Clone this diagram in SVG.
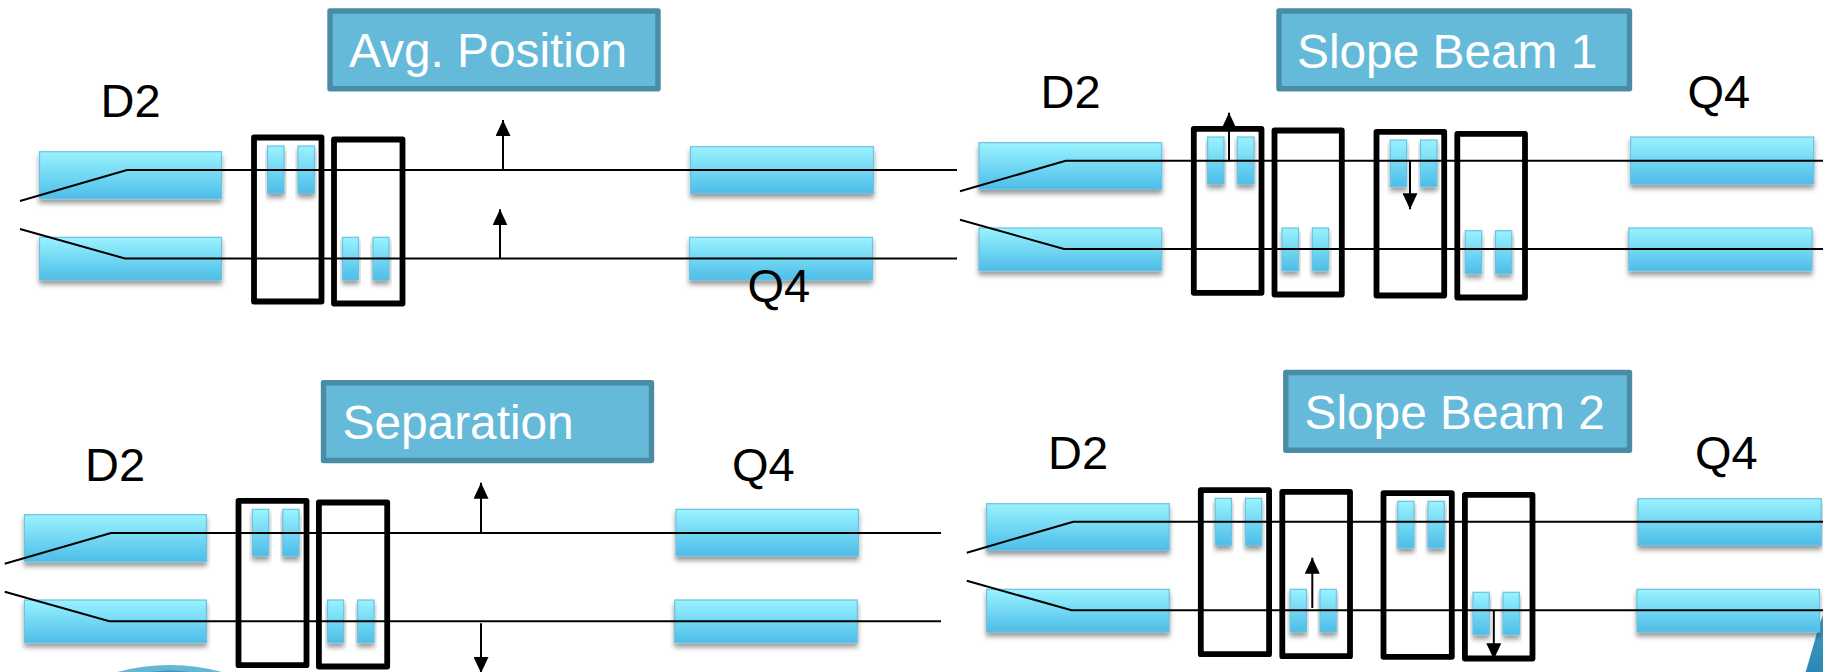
<svg xmlns="http://www.w3.org/2000/svg" width="1823" height="672" viewBox="0 0 1823 672">
<defs>
<linearGradient id="mag" x1="0" y1="0" x2="0" y2="1"><stop offset="0" stop-color="#9AF3FF"/><stop offset="1" stop-color="#4DBDE8"/></linearGradient>
<linearGradient id="wedge" x1="0" y1="0" x2="0" y2="1"><stop offset="0" stop-color="#3F9DC6"/><stop offset="1" stop-color="#2C88B2"/></linearGradient>
<filter id="sh" x="-15%" y="-15%" width="130%" height="150%"><feDropShadow dx="0" dy="4" stdDeviation="2.5" flood-color="#000" flood-opacity="0.4"/></filter>
<marker id="ah" viewBox="0 0 16 15" refX="16" refY="7.5" markerWidth="16" markerHeight="15" markerUnits="userSpaceOnUse" orient="auto"><path d="M0 0L16 7.5L0 15Z" fill="#000"/></marker>
</defs>
<style>
text{font-family:"Liberation Sans",Arial,sans-serif}
.mag{fill:url(#mag);stroke:#6CC2E0;stroke-width:1.2;filter:url(#sh)}
.box{fill:none;stroke:#000;stroke-width:5.8;stroke-linejoin:round}
.title rect{fill:#66BAD9;stroke:#4A8CA5;stroke-width:5.4;stroke-linejoin:round}
.title text{fill:#fff;font-size:47.8px}
.lbl{fill:#000;font-size:47px}
.beam{fill:none;stroke:#000;stroke-width:2}
.arr{fill:none;stroke:#000;stroke-width:2;marker-end:url(#ah)}
</style>
<rect width="1823" height="672" fill="#fff"/>
<g id="decor">
<path d="M117 672Q170 658 222 672Z" fill="#63B6D4"/>
<path d="M150 672Q170 669 190 672Z" fill="#3F93B5"/>
<path d="M1819.2 625L1823 615V672H1805.7Z" fill="url(#wedge)"/>
</g>

<g id="panel-a-nodes">
<g id="a-title" class="title"><rect x="330" y="11" width="328" height="77.7"/><text x="349" y="66.5">Avg. Position</text></g>
<g id="a-d2-up"><rect class="mag" x="39.5" y="151.7" width="182" height="47"/></g>
<g id="a-d2-low"><rect class="mag" x="39.5" y="237.3" width="182" height="42.7"/></g>
<g id="a-q4-up"><rect class="mag" x="690.5" y="146.7" width="183" height="46.6"/></g>
<g id="a-q4-low"><rect class="mag" x="689.5" y="237.3" width="183" height="42.7"/></g>
<g id="a-m1"><rect class="mag" x="267.5" y="146" width="16.5" height="47.3"/><rect class="mag" x="298" y="146" width="16.5" height="47.3"/></g>
<g id="a-m2"><rect class="mag" x="342.5" y="237.3" width="16" height="42.7"/><rect class="mag" x="373" y="237.3" width="16" height="42.7"/></g>
<rect id="a-box1" class="box" x="254" y="137.5" width="67.5" height="164"/>
<rect id="a-box2" class="box" x="334" y="139.5" width="68.5" height="164"/>
<text id="a-d2" class="lbl" x="100.5" y="117">D2</text>
<text id="a-q4" class="lbl" x="747.5" y="301.5">Q4</text>
</g>

<g id="panel-b-nodes">
<g id="b-title" class="title"><rect x="1279" y="11" width="350.5" height="77.7"/><text x="1297" y="67.5">Slope Beam 1</text></g>
<g id="b-d2-up"><rect class="mag" x="979" y="142.7" width="182.7" height="46.6"/></g>
<g id="b-d2-low"><rect class="mag" x="979" y="228" width="182.7" height="42.7"/></g>
<g id="b-q4-up"><rect class="mag" x="1630.5" y="137" width="183.2" height="47"/></g>
<g id="b-q4-low"><rect class="mag" x="1628.8" y="228" width="183.2" height="42.7"/></g>
<g id="b-m1"><rect class="mag" x="1207.6" y="137" width="16.4" height="47"/><rect class="mag" x="1237.3" y="137" width="16.7" height="47"/></g>
<g id="b-m2"><rect class="mag" x="1282" y="228" width="16.4" height="42.7"/><rect class="mag" x="1312.3" y="228" width="16.3" height="42.7"/></g>
<g id="b-m3"><rect class="mag" x="1390.3" y="140" width="16.3" height="46.7"/><rect class="mag" x="1420.5" y="140" width="16.5" height="46.7"/></g>
<g id="b-m4"><rect class="mag" x="1465.3" y="230.7" width="16.3" height="43"/><rect class="mag" x="1495.5" y="230.7" width="16.3" height="43"/></g>
<rect id="b-box1" class="box" x="1193.8" y="128.8" width="67.7" height="164"/>
<rect id="b-box2" class="box" x="1274.5" y="130.5" width="67.3" height="164"/>
<rect id="b-box3" class="box" x="1376.5" y="131.8" width="67.7" height="163.7"/>
<rect id="b-box4" class="box" x="1457.3" y="133.8" width="67.7" height="163.7"/>
<text id="b-d2" class="lbl" x="1040.5" y="108.3">D2</text>
<text id="b-q4" class="lbl" x="1687.5" y="108.3">Q4</text>
</g>

<g id="panel-c-nodes">
<g id="c-title" class="title"><rect x="323.5" y="382.8" width="328" height="77.7"/><text x="342.5" y="439">Separation</text></g>
<g id="c-d2-up"><rect class="mag" x="24.4" y="514.7" width="182" height="47"/></g>
<g id="c-d2-low"><rect class="mag" x="24.4" y="600" width="182" height="42.7"/></g>
<g id="c-q4-up"><rect class="mag" x="676" y="509.3" width="182.5" height="46.7"/></g>
<g id="c-q4-low"><rect class="mag" x="674.7" y="600" width="182.6" height="42.7"/></g>
<g id="c-m1"><rect class="mag" x="252.4" y="509.3" width="16.3" height="46.7"/><rect class="mag" x="282.7" y="509.3" width="16.3" height="46.7"/></g>
<g id="c-m2"><rect class="mag" x="327.5" y="600" width="16.2" height="42.7"/><rect class="mag" x="357.7" y="600" width="16.3" height="42.7"/></g>
<rect id="c-box1" class="box" x="238.5" y="500.8" width="68" height="164.4"/>
<rect id="c-box2" class="box" x="318.9" y="502.5" width="68.3" height="164"/>
<text id="c-d2" class="lbl" x="85" y="481">D2</text>
<text id="c-q4" class="lbl" x="732" y="481">Q4</text>
</g>

<g id="panel-d-nodes">
<g id="d-title" class="title"><rect x="1285.8" y="372.5" width="343.7" height="77.7"/><text x="1304.5" y="428.7">Slope Beam 2</text></g>
<g id="d-d2-up"><rect class="mag" x="986.6" y="503.7" width="182.6" height="46.6"/></g>
<g id="d-d2-low"><rect class="mag" x="986.6" y="589.3" width="182.6" height="42.7"/></g>
<g id="d-q4-up"><rect class="mag" x="1638" y="498.7" width="183.3" height="46.6"/></g>
<g id="d-q4-low"><rect class="mag" x="1637" y="589.3" width="182.5" height="42.7"/></g>
<g id="d-m1"><rect class="mag" x="1215.2" y="498.3" width="16.3" height="47"/><rect class="mag" x="1245.4" y="498.3" width="16.3" height="47"/></g>
<g id="d-m2"><rect class="mag" x="1290.2" y="589.3" width="16.3" height="42.7"/><rect class="mag" x="1320" y="589.3" width="16.3" height="42.7"/></g>
<g id="d-m3"><rect class="mag" x="1397.8" y="501.3" width="16.2" height="46.7"/><rect class="mag" x="1428" y="501.3" width="16.3" height="46.7"/></g>
<g id="d-m4"><rect class="mag" x="1473" y="592.3" width="16.2" height="42.4"/><rect class="mag" x="1503" y="592.3" width="16.4" height="42.4"/></g>
<rect id="d-box1" class="box" x="1200.8" y="490.2" width="68.3" height="164"/>
<rect id="d-box2" class="box" x="1282.3" y="491.8" width="67.7" height="164.4"/>
<rect id="d-box3" class="box" x="1383.5" y="493.2" width="68.3" height="163.6"/>
<rect id="d-box4" class="box" x="1464.9" y="494.8" width="67.6" height="163.7"/>
<text id="d-d2" class="lbl" x="1048" y="469.3">D2</text>
<text id="d-q4" class="lbl" x="1695" y="469.3">Q4</text>
</g>

<g id="connectors">
<path class="beam" d="M20 201L127 170H957"/>
<path class="beam" d="M20 229L125 258.5H957"/>
<path class="arr" d="M503 170V120"/>
<path class="arr" d="M500 258.5V209.3"/>
<path class="beam" d="M960 191.3L1065.7 160.7H1823"/>
<path class="beam" d="M960 219.7L1064 249H1823"/>
<path class="arr" d="M1229 161.5V112.7"/>
<path class="arr" d="M1410 160.7V209.3"/>
<path class="beam" d="M4.7 563.7L111 533H941"/>
<path class="beam" d="M4.7 591.7L109.3 621.3H941"/>
<path class="arr" d="M481 533V482.7"/>
<path class="arr" d="M481 623.3V673"/>
<path class="beam" d="M966.8 552.7L1073.3 521.7H1823"/>
<path class="beam" d="M966.8 580.7L1071.5 610.3H1823"/>
<path class="arr" d="M1312.3 608V557.7"/>
<path class="arr" d="M1493.8 610.3V659.3"/>
</g>
</svg>
